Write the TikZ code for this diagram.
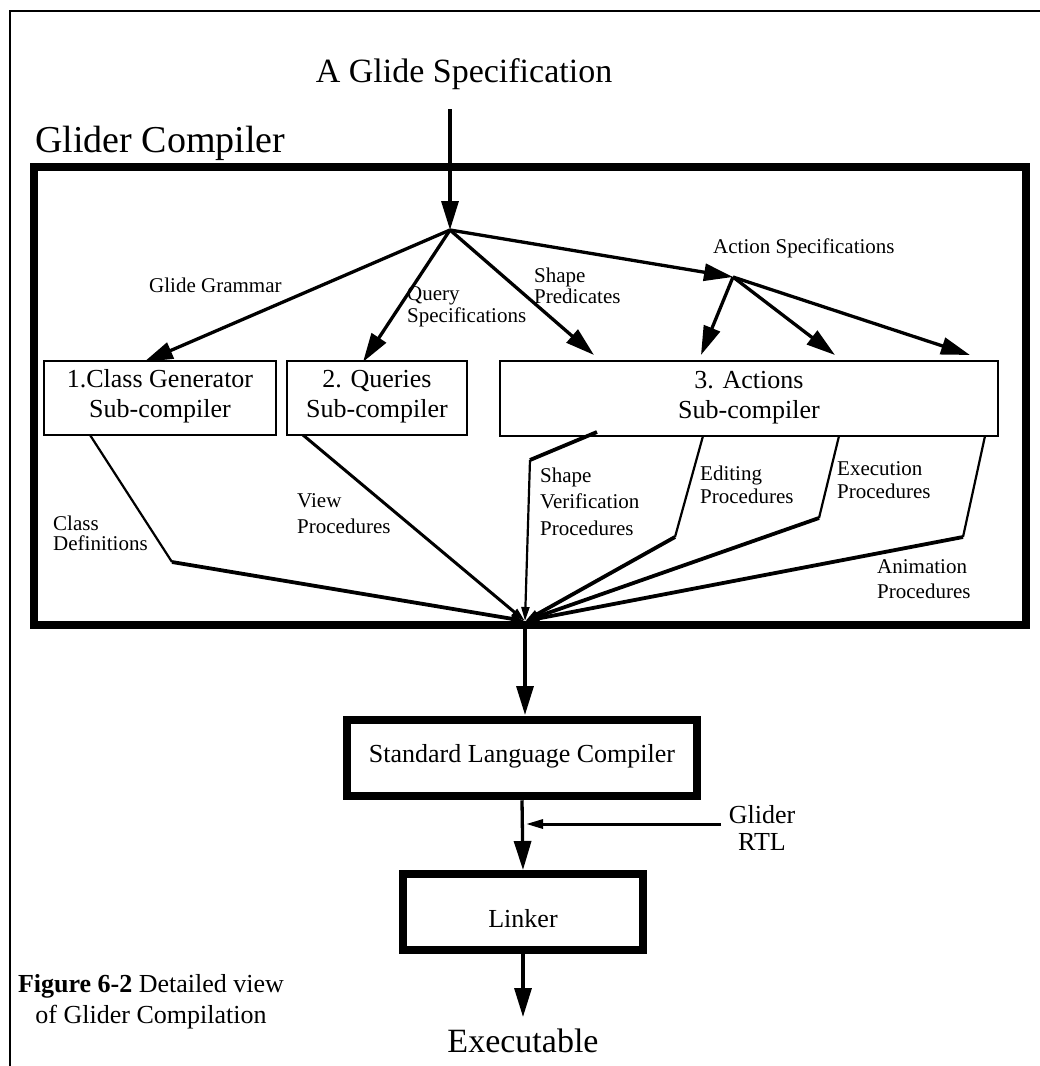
\documentclass[tikz,border=0pt]{standalone}
\usepackage{fontspec}
\setmainfont{Liberation Serif}
\usetikzlibrary{arrows.meta}
\newcommand{\myfs}[2]{\fontsize{#1}{#2}\selectfont}
\begin{document}
\begin{tikzpicture}[x=1pt,y=-1pt,
  bigarrow/.style={-{Triangle[length=29pt,width=17pt]}, line width=3.3pt},
  tiparrow/.style={-{Triangle[length=14pt,width=8pt]}},
  thinln/.style={line width=2.2pt},
  thickln/.style={line width=3.8pt},
  subbox/.style={draw, line width=2pt, inner sep=0pt},
  heavybox/.style={draw, line width=8pt, inner sep=0pt},
  lbl/.style={font=\myfs{21}{23}, align=left, inner sep=0pt, anchor=base west},
  boxtxt/.style={font=\myfs{26}{30}, align=center, inner sep=0pt, anchor=base},
]
\useasboundingbox (0,0) rectangle (1040,1066);

% outer frame
\coordinate (fa) at (1040,11);
\coordinate (fb) at (10,11);
\coordinate (fc) at (10,1066);
\draw[line width=2.5pt] (fa) -- (fb) -- (fc);

% Glider compiler box
\node[heavybox, minimum width=992pt, minimum height=458pt] (gc) at (529.5,396) {};
\node[anchor=base west, inner sep=0pt, font=\myfs{38}{40}] (gctitle) at (35,152) {Glider Compiler};
\node[anchor=base, inner sep=0pt, font=\myfs{34}{38}] (spec) at (464,82) {A Glide Specification};

\coordinate (specout) at (450,109);
\coordinate (J) at (450,230);
\draw[bigarrow] (specout) -- (J);

% sub-compilers
\node[subbox, minimum width=232pt, minimum height=74pt] (cg) at (160,398) {};
\node[subbox, minimum width=180pt, minimum height=74pt] (qb) at (377,398) {};
\node[subbox, minimum width=498pt, minimum height=75pt] (ab) at (749,398.5) {};
\node[boxtxt] (cgt) at (160,417) {1.Class Generator\\Sub-compiler};
\node[boxtxt] (qbt) at (377,417) {2. Queries\\Sub-compiler};
\node[boxtxt] (abt) at (749,418) {3. Actions\\Sub-compiler};

% input arrows
\coordinate (t1) at (144,362);
\coordinate (t2) at (363,362);
\coordinate (t3) at (594,355);
\coordinate (K) at (733,277);
\coordinate (t4) at (701,355);
\coordinate (t5) at (835,355);
\coordinate (t6) at (970,355);
\draw[bigarrow] (J) -- (t1);
\draw[bigarrow] (J) -- (t2);
\draw[bigarrow] (J) -- (t3);
\draw[bigarrow] (J) -- (K);
\draw[bigarrow] (K) -- (t4);
\draw[bigarrow] (K) -- (t5);
\draw[bigarrow] (K) -- (t6);

\node[lbl] (lgg) at (149,292) {Glide Grammar};
\node[lbl, font=\myfs{21}{22}] (lqs) at (407,322) {Query\\Specifications};
\node[lbl, font=\myfs{21}{20.5}] (lsp) at (534,303) {Shape\\Predicates};
\node[lbl] (las) at (713,253) {Action Specifications};

% output lines
\coordinate (M) at (525,621);
\coordinate (o1a) at (90,435);
\coordinate (o1b) at (172,562);
\coordinate (o2a) at (303,435);
\coordinate (o3a) at (597,432);
\coordinate (o3b) at (530,460);
\coordinate (o4a) at (703,436);
\coordinate (o4b) at (675,537);
\coordinate (o5a) at (839,436);
\coordinate (o5b) at (819,518);
\coordinate (o6a) at (985,436);
\coordinate (o6b) at (963,537);
\draw[thinln] (o1a) -- (o1b);
\draw[thickln, tiparrow] (o1b) -- (M);
\draw[line width=3pt, tiparrow] (o2a) -- (M);
\draw[thickln] (o3a) -- (o3b);
\draw[thinln, tiparrow] (o3b) -- (M);
\draw[thinln] (o4a) -- (o4b);
\draw[thickln, tiparrow] (o4b) -- (M);
\draw[thinln] (o5a) -- (o5b);
\draw[thickln, tiparrow] (o5b) -- (M);
\draw[thinln] (o6a) -- (o6b);
\draw[thickln, tiparrow] (o6b) -- (M);

\node[lbl, font=\myfs{21}{20}] (lcd) at (53,550) {Class\\Definitions};
\node[lbl, font=\myfs{21}{26}] (lvp) at (297,533) {View\\Procedures};
\node[lbl, font=\myfs{21}{26.5}] (lsv) at (540,535) {Shape\\Verification\\Procedures};
\node[lbl] (lep) at (700,503) {Editing\\Procedures};
\node[lbl] (lxp) at (837,498) {Execution\\Procedures};
\node[lbl, font=\myfs{21}{25}] (lap) at (877,598) {Animation\\Procedures};

% standard language compiler
\node[heavybox, minimum width=349.5pt, minimum height=76.5pt] (slc) at (522,758) {};
\node[boxtxt] (slct) at (522,762) {Standard Language Compiler};
\coordinate (slcin) at (525,715);
\draw[bigarrow] (M) -- (slcin);

% linker
\node[heavybox, minimum width=240pt, minimum height=76pt] (lnk) at (523,912) {};
\node[boxtxt] (lnkt) at (523,927) {Linker};
\draw[bigarrow] (slc.south) -- (lnk.north);

% Glider RTL
\coordinate (rtlA) at (721,824);
\coordinate (rtlB) at (526,824);
\draw[line width=3pt, -{Triangle[length=17pt,width=9pt]}] (rtlA) -- (rtlB);
\node[font=\myfs{26}{27}, align=center, inner sep=0pt, anchor=base] (rtl) at (762,850) {Glider\\RTL};

% executable
\coordinate (exein) at (523,1017);
\draw[bigarrow] (lnk.south) -- (exein);
\node[anchor=base, inner sep=0pt, font=\myfs{34}{38}] (exe) at (523,1052) {Executable};

% caption
\node[anchor=base, inner sep=0pt, font=\myfs{26}{31}, align=center] (cap) at (151,1023) {\textbf{Figure 6-2} Detailed view\\of Glider Compilation};
\end{tikzpicture}
\end{document}
